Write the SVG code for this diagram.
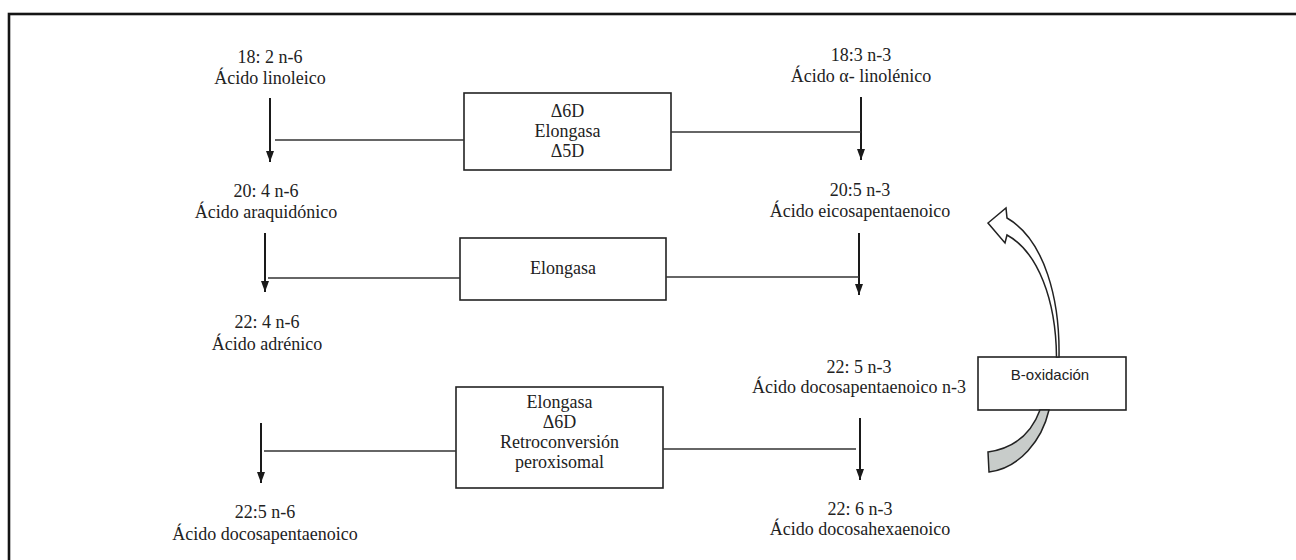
<svg xmlns="http://www.w3.org/2000/svg" width="1296" height="560" viewBox="0 0 1296 560">
<defs>
<style>
.t{font-family:"Liberation Serif","Times New Roman",serif;font-size:18px;fill:#222;text-anchor:middle}
.s{font-family:"Liberation Sans",Arial,sans-serif;font-size:15px;fill:#222;text-anchor:middle}
.box{fill:#fff;stroke:#222;stroke-width:1.6}
.v{stroke:#1a1a1a;stroke-width:2;fill:none}
.h{stroke:#333;stroke-width:1.6;fill:none}
</style>
<marker id="ah" markerUnits="userSpaceOnUse" markerWidth="12" markerHeight="10" viewBox="0 0 12 10" refX="11" refY="5" orient="auto">
<path d="M0,1 L11,5 L0,9 Z" fill="#1a1a1a"/>
</marker>
</defs>
<rect x="9" y="14" width="1300" height="560" fill="#fff" stroke="#151515" stroke-width="2.6"/>

<g id="n-linoleico">
<text class="t" x="270" y="63">18: 2 n-6</text>
<text class="t" x="270" y="84">Ácido linoleico</text>
</g>
<g id="n-alinolenico">
<text class="t" x="861" y="61">18:3 n-3</text>
<text class="t" x="861" y="82">Ácido α- linolénico</text>
</g>
<g id="n-araquidonico">
<text class="t" x="266" y="197">20: 4 n-6</text>
<text class="t" x="266" y="218">Ácido araquidónico</text>
</g>
<g id="n-eicosapentaenoico">
<text class="t" x="860" y="196">20:5 n-3</text>
<text class="t" x="860" y="217">Ácido eicosapentaenoico</text>
</g>
<g id="n-adrenico">
<text class="t" x="267" y="328">22: 4 n-6</text>
<text class="t" x="267" y="350">Ácido adrénico</text>
</g>
<g id="n-dpa3">
<text class="t" x="859" y="373">22: 5 n-3</text>
<text class="t" x="859" y="393">Ácido docosapentaenoico n-3</text>
</g>
<g id="n-dpa6">
<text class="t" x="265" y="518">22:5 n-6</text>
<text class="t" x="265" y="540">Ácido docosapentaenoico</text>
</g>
<g id="n-dha">
<text class="t" x="860" y="515">22: 6 n-3</text>
<text class="t" x="860" y="535">Ácido docosahexaenoico</text>
</g>

<g id="e-box1">
<rect class="box" x="464" y="93" width="207" height="77"/>
<text class="t" x="567.5" y="117">Δ6D</text>
<text class="t" x="567.5" y="137">Elongasa</text>
<text class="t" x="567.5" y="157">Δ5D</text>
</g>
<g id="e-box2">
<rect class="box" x="460" y="238" width="206" height="62"/>
<text class="t" x="563" y="274">Elongasa</text>
</g>
<g id="e-box3">
<rect class="box" x="456" y="387" width="207" height="101"/>
<text class="t" x="559.5" y="408">Elongasa</text>
<text class="t" x="559.5" y="428">Δ6D</text>
<text class="t" x="559.5" y="448">Retroconversión</text>
<text class="t" x="559.5" y="468">peroxisomal</text>
</g>
<g id="e-boxidacion">
<rect class="box" x="978" y="357" width="148" height="53"/>
<text class="s" x="1050" y="380">B-oxidación</text>
</g>

<g id="connectors">
<line class="v" x1="270" y1="98" x2="270" y2="162" marker-end="url(#ah)"/>
<line class="v" x1="861" y1="97" x2="861" y2="160" marker-end="url(#ah)"/>
<line class="v" x1="265" y1="233" x2="265" y2="292" marker-end="url(#ah)"/>
<line class="v" x1="859" y1="233" x2="859" y2="295" marker-end="url(#ah)"/>
<line class="v" x1="261" y1="423" x2="261" y2="483" marker-end="url(#ah)"/>
<line class="v" x1="860" y1="418" x2="860" y2="480" marker-end="url(#ah)"/>
<line class="h" x1="275" y1="140" x2="464" y2="140"/>
<line class="h" x1="671" y1="132" x2="861" y2="132"/>
<line class="h" x1="268" y1="278" x2="460" y2="278"/>
<line class="h" x1="666" y1="277" x2="859" y2="277"/>
<line class="h" x1="264" y1="451" x2="456" y2="451"/>
<line class="h" x1="663" y1="449" x2="856" y2="449"/>
<path d="M1059,357 C1060,300 1045,240 1007,218 L1006,208 L988,223 L1005,243 L1007,235 C1038,252 1056,300 1056.5,357 Z" fill="#fff" stroke="#222" stroke-width="1.5" stroke-linejoin="miter"/>
<path d="M1040,410 C1032,432 1015,448 988,452 L989,472 C1020,468 1042,440 1049,410 Z" fill="#c8ccca" stroke="#222" stroke-width="1.5"/>
</g>
</svg>
